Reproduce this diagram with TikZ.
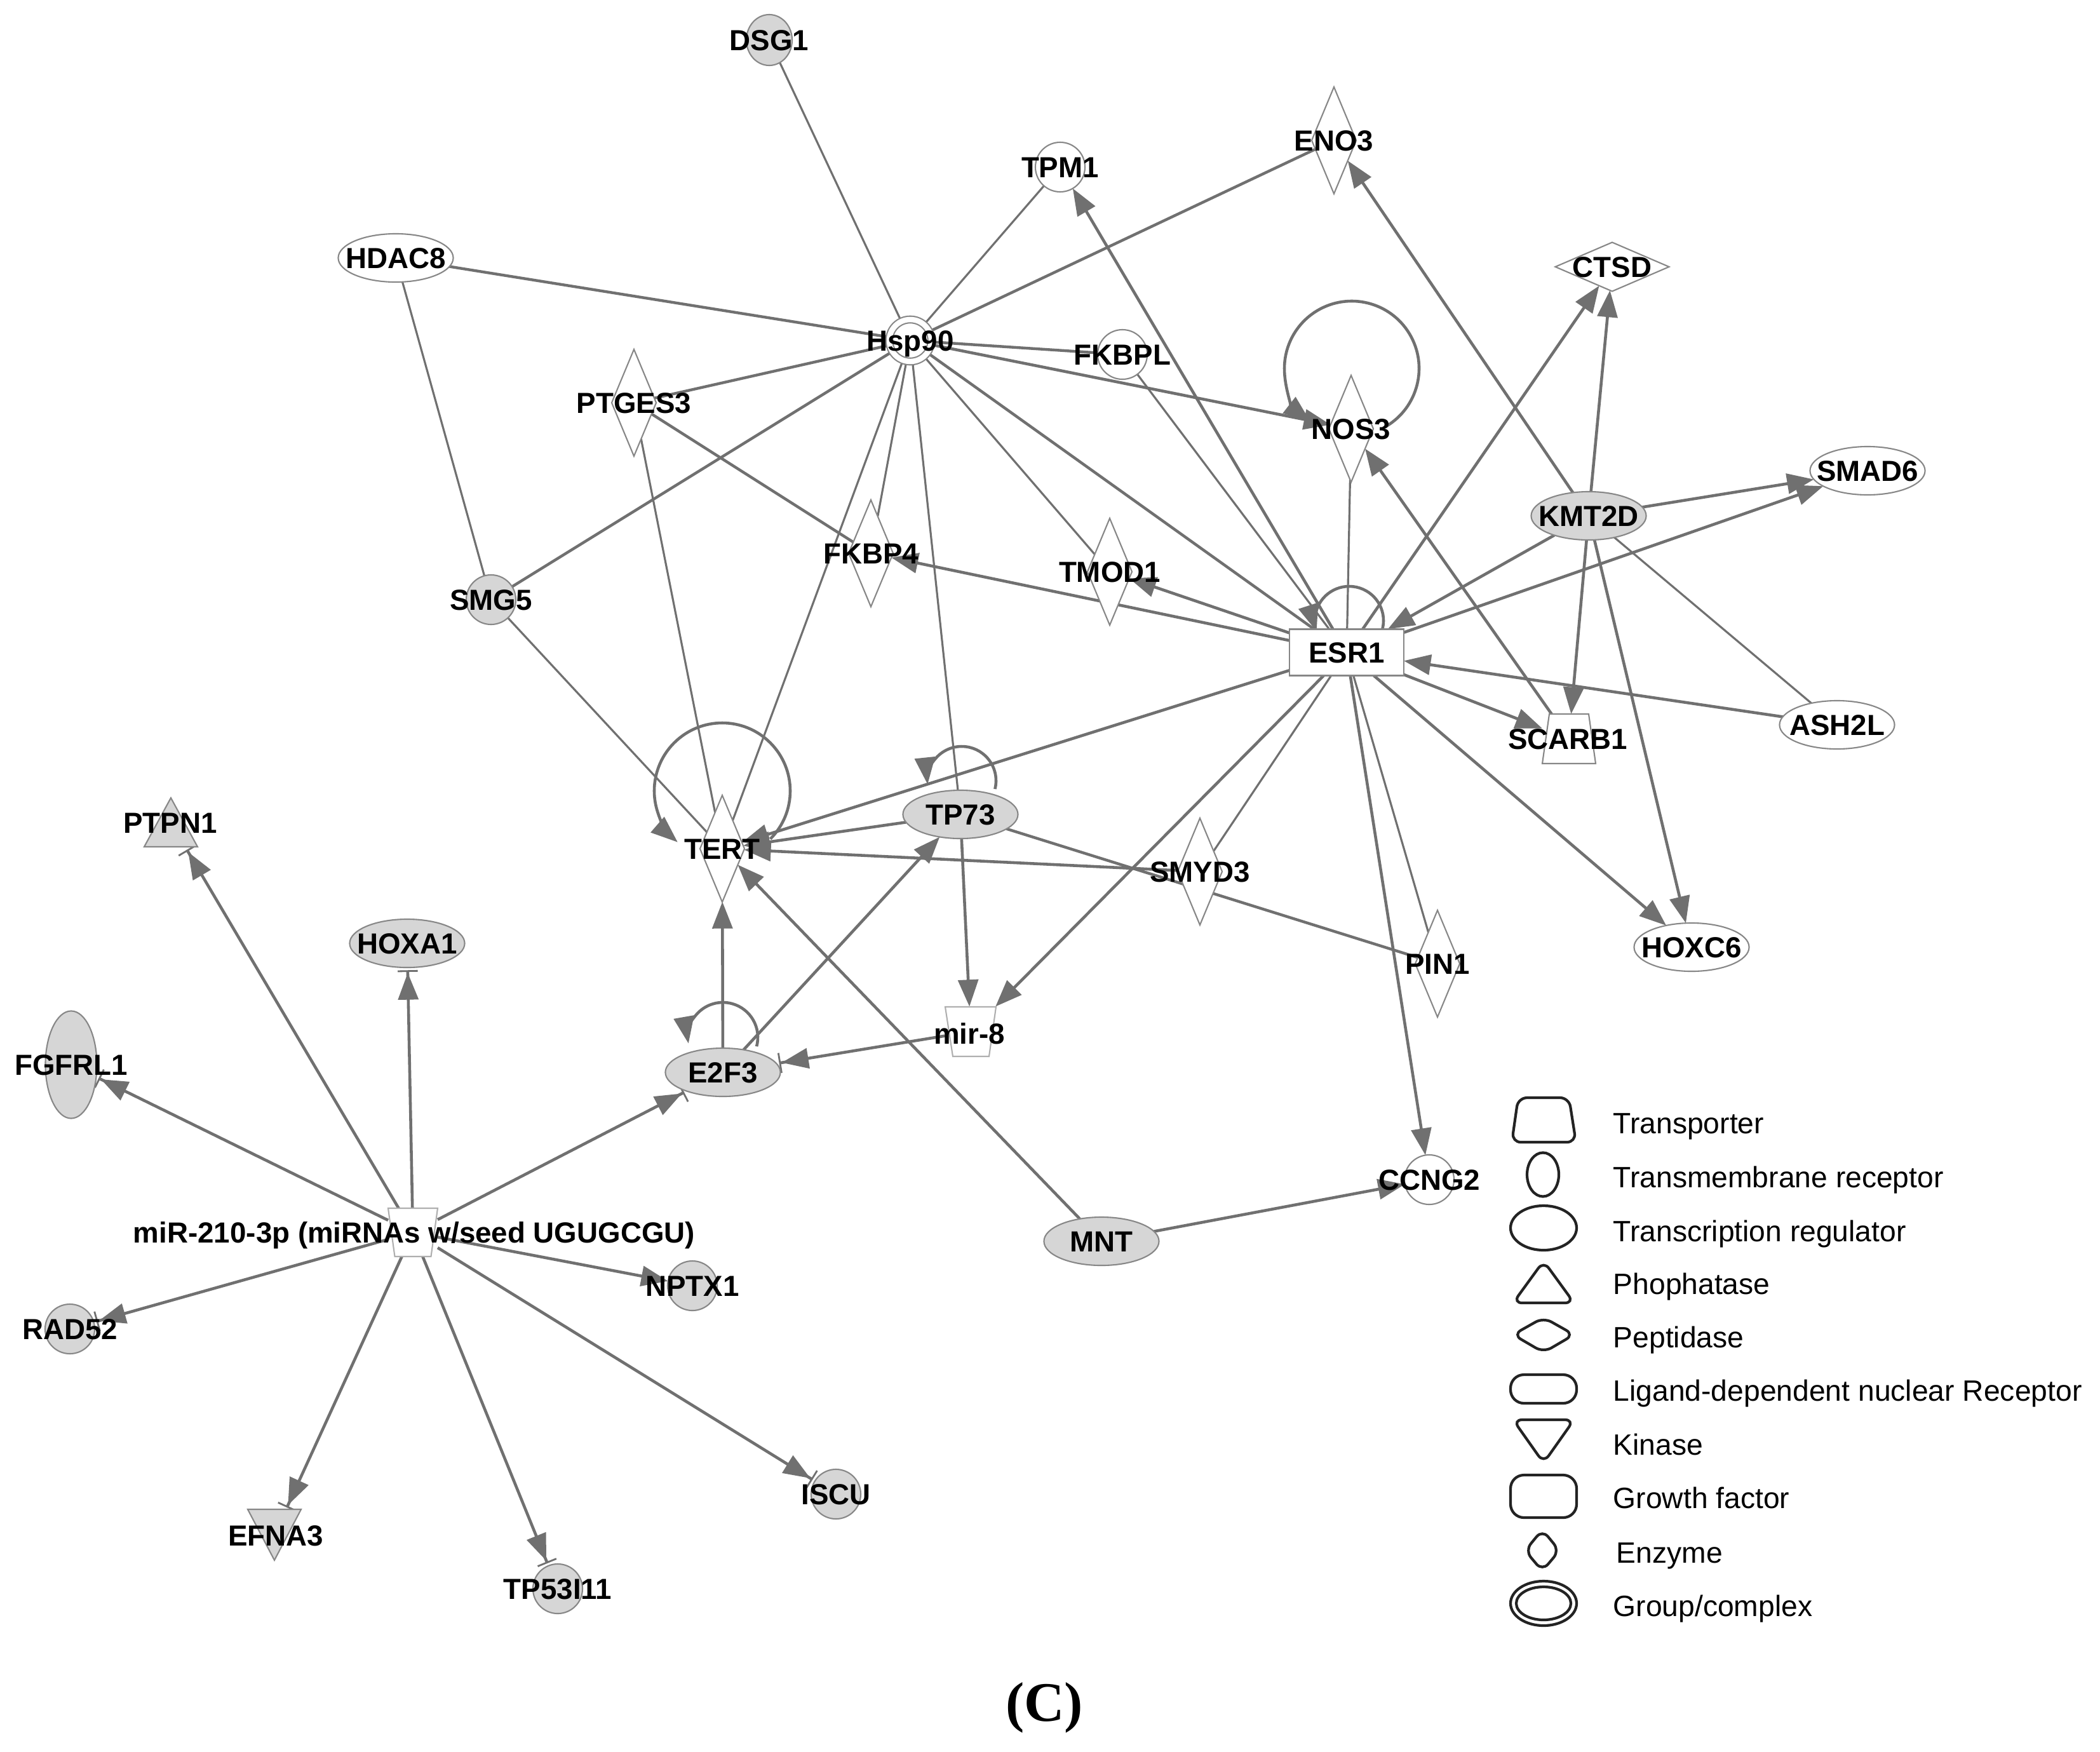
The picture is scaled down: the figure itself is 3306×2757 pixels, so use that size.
\documentclass[tikz,border=0pt]{standalone}
\usepackage{fontspec}
\setmainfont{Liberation Sans}
\newfontfamily\capfont{Liberation Serif}
\usetikzlibrary{shapes.geometric,arrows.meta,calc}
\pgfdeclarelayer{bg}
\pgfdeclarelayer{edges}
\pgfsetlayers{bg,edges,main}
\definecolor{edgegray}{RGB}{112,112,112}
\definecolor{nodefill}{RGB}{214,214,214}
\definecolor{nodeline}{RGB}{135,135,135}
\definecolor{trapline}{RGB}{175,175,175}
\definecolor{legendline}{RGB}{35,35,35}
\newcommand\lblfont{\fontsize{13}{15}\selectfont\bfseries}
\newcommand\legfont{\fontsize{13.15}{15}\selectfont}
\tikzset{
  lbl/.style={font=\lblfont, text=black, inner sep=0pt, text height=9.3pt, text depth=0pt},
  txt/.style={label={[lbl]center:#1}},
  wh/.style={draw=nodeline, line width=0.6pt, fill=white, inner sep=0pt, outer sep=0pt},
  gr/.style={draw=nodeline, line width=0.6pt, fill=nodefill, inner sep=0pt, outer sep=0pt},
  trap/.style={draw=trapline, line width=0.6pt, fill=white},
  treg/.style={ellipse, minimum width=1.81cm, minimum height=0.76cm},
  othr/.style={circle, minimum size=0.78cm},
  enz/.style={diamond, minimum width=0.70cm, minimum height=1.68cm},
  pept/.style={diamond, minimum width=1.79cm, minimum height=0.77cm},
  tmr/.style={ellipse, minimum width=0.81cm, minimum height=1.69cm},
  nrec/.style={rectangle, minimum width=1.80cm, minimum height=0.73cm},
  grp/.style={circle, minimum size=0.66cm, double=white, double distance=2.4pt},
  anchorbox/.style={rectangle, inner sep=0pt, outer sep=0pt, minimum width=0.84cm, minimum height=0.78cm},
  ln/.style={draw=edgegray, line width=0.9pt},
  lnb/.style={draw=edgegray, line width=1.25pt},
  arr/.style={draw=edgegray, line width=1.3pt, -{Triangle[length=12pt,width=9pt]}},
  inh/.style={draw=edgegray, line width=1.3pt, shorten >=1.2pt,
     -{Triangle[length=12pt,width=9pt,sep=0.4pt] Bar[width=9pt,line width=0.8pt]}},
  leg/.style={draw=legendline, line width=1.2pt},
  legtxt/.style={font=\legfont, text=black, inner sep=0pt, anchor=base west},
}
\begin{document}
\begin{tikzpicture}[x=0.01cm,y=-0.01cm]
\useasboundingbox (0,0) rectangle (3306,2757);
\begin{pgfonlayer}{bg}
\fill[white] (0,0) rectangle (3306,2757);
\end{pgfonlayer}

% ---------- nodes ----------
\node[gr,ellipse,minimum width=0.72cm,minimum height=0.80cm,txt=DSG1] (DSG1) at (1211,63) {};
\node[wh,othr,txt=TPM1] (TPM1) at (1669,263) {};
\node[wh,enz,txt=ENO3] (ENO3) at (2100,221) {};
\node[wh,treg,txt=HDAC8] (HDAC8) at (623,406) {};
\node[wh,pept,txt=CTSD] (CTSD) at (2538,420) {};
\node[wh,grp,txt=Hsp90] (Hsp90) at (1433,536) {};
\node[wh,othr,txt=FKBPL] (FKBPL) at (1767,558) {};
\node[wh,enz,txt=PTGES3] (PTGES3) at (998,634) {};
\node[wh,enz,txt=NOS3] (NOS3) at (2127,675) {};
\node[wh,treg,txt=SMAD6] (SMAD6) at (2940,741) {};
\node[gr,treg,txt=KMT2D] (KMT2D) at (2501,812) {};
\node[wh,enz,txt=FKBP4] (FKBP4) at (1371,871) {};
\node[wh,enz,txt=TMOD1] (TMOD1) at (1747,900) {};
\node[gr,othr,txt=SMG5] (SMG5) at (773,944) {};
\node[wh,nrec,txt=ESR1] (ESR1) at (2120,1027) {};
\node[wh,treg,txt=ASH2L] (ASH2L) at (2892,1141) {};
\node[wh,enz,txt=TERT] (TERT) at (1137,1336) {};
\node[gr,treg,txt=TP73] (TP73) at (1512,1282) {};
\node[wh,enz,txt=SMYD3] (SMYD3) at (1889,1372) {};
\node[gr,treg,txt=HOXA1] (HOXA1) at (641,1485) {};
\node[wh,treg,txt=HOXC6] (HOXC6) at (2663,1491) {};
\node[wh,enz,txt=PIN1] (PIN1) at (2263,1517) {};
\node[gr,tmr,txt=FGFRL1] (FGFRL1) at (112,1676) {};
\node[gr,treg,txt=E2F3] (E2F3) at (1138,1688) {};
\node[wh,othr,txt=CCNG2] (CCNG2) at (2250,1857) {};
\node[gr,treg,txt=MNT] (MNT) at (1734,1954) {};
\node[gr,othr,txt=NPTX1] (NPTX1) at (1090,2024) {};
\node[gr,othr,txt=RAD52] (RAD52) at (110,2092) {};
\node[gr,othr,txt=ISCU] (ISCU) at (1316,2352) {};
\node[gr,othr,txt=TP53I11] (TP53I11) at (878,2501) {};
% trapezoids (transporter / microRNA)
\node[anchorbox] (SCARB1) at (2470,1163) {};
\draw[trap,draw=nodeline] (2439,1124) -- (2501,1124) -- (2512,1202) -- (2428,1202) -- cycle;
\node[lbl] (SCARB1t) at (2468,1163) {SCARB1};
\node[anchorbox,minimum width=0.80cm,minimum height=0.79cm] (mir8) at (1528,1624) {};
\draw[trap] (1488,1585) -- (1568,1585) -- (1557,1663) -- (1500,1663) -- cycle;
\node[lbl] (mir8t) at (1526,1627) {mir-8};
\node[anchorbox,minimum width=0.78cm,minimum height=0.76cm] (miR) at (650,1940) {};
\draw[trap] (611,1902) -- (689,1902) -- (678.5,1978) -- (621.5,1978) -- cycle;
\node[lbl] (miRt) at (652,1940) {miR-210-3p (miRNAs w/seed UGUGCGU)};
% triangles (phosphatase / kinase)
\node[anchorbox] (PTPN1) at (269,1295) {};
\draw[gr] (227,1333) -- (311,1333) -- (269,1256) -- cycle;
\node[lbl] (PTPN1t) at (268,1295) {PTPN1};
\node[anchorbox] (EFNA3) at (432,2416) {};
\draw[gr] (390,2376) -- (474,2376) -- (432,2456) -- cycle;
\node[lbl] (EFNA3t) at (434,2417) {EFNA3};

% ---------- edges ----------
\begin{pgfonlayer}{edges}
% thin undirected
\draw[ln] (DSG1) -- (Hsp90);
\draw[ln] (HDAC8) -- (SMG5);
\draw[ln] (PTGES3) -- (TERT);
\draw[ln] (Hsp90) -- (TERT);
\draw[ln] (Hsp90) -- (FKBP4);
\draw[ln] (Hsp90) -- (TP73);
\draw[ln] (FKBPL) -- (ESR1);
\draw[ln] (NOS3) -- (ESR1);
\draw[ln] (ESR1) -- (PIN1);
\draw[ln] (KMT2D) -- (ASH2L);
\draw[ln] (Hsp90) -- (TMOD1);
\draw[ln] (Hsp90) -- (TPM1);
\draw[ln] (SMG5) -- (TERT);
\draw[ln] (ESR1) -- (SMYD3);
% thick undirected
\draw[lnb] (HDAC8) -- (Hsp90);
\draw[lnb] (Hsp90) -- (ENO3);
\draw[lnb] (Hsp90) -- (FKBPL);
\draw[lnb] (Hsp90) -- (PTGES3);
\draw[lnb] (Hsp90) -- (SMG5);
\draw[lnb] (Hsp90) -- (ESR1);
\draw[lnb] (PTGES3) -- (FKBP4);
\draw[lnb] (TP73) -- (PIN1);
% arrows
\draw[arr] (Hsp90) -- (NOS3);
\draw[arr] (ESR1) -- (TPM1);
\draw[arr] (ESR1) -- (FKBP4);
\draw[arr] (ESR1) -- (TMOD1);
\draw[arr] (ESR1) -- (TERT);
\draw[arr] (ESR1) -- (CTSD);
\draw[arr] (KMT2D) -- (ESR1);
\draw[arr] (ESR1) -- (SMAD6);
\draw[arr] (ASH2L) -- (ESR1);
\draw[arr] (ESR1) -- (SCARB1);
\draw[arr] (ESR1) -- (HOXC6);
\draw[arr] (ESR1) -- (CCNG2);
\draw[arr] (ESR1) -- (mir8);
\draw[arr] (SCARB1) -- (NOS3);
\draw[arr] (KMT2D) -- (CTSD);
\draw[arr] (KMT2D) -- (SMAD6);
\draw[arr] (KMT2D) -- (SCARB1);
\draw[arr] (KMT2D) -- (HOXC6);
\draw[arr] (KMT2D) -- (ENO3);
\draw[arr] (TP73) -- (TERT);
\draw[arr] (SMYD3) -- (TERT);
\draw[arr] (TP73) -- (mir8);
\draw[arr] (E2F3) -- (TERT);
\draw[arr] (E2F3) -- (TP73);
\draw[arr] (MNT) -- (TERT);
\draw[arr] (MNT) -- (CCNG2);
% self loops
\coordinate (NOS3c) at (2128,580);
\coordinate (TERTc) at (1137,1245);
\coordinate (E2F3c) at (1138,1633);
\coordinate (TP73c) at (1514,1229);
\coordinate (ESR1c) at (2124,977);
\draw[arr] ($(NOS3c)+(62:106)$) arc[start angle=62, end angle=-232, radius=106];
\draw[arr] ($(TERTc)+(45:107)$) arc[start angle=45, end angle=-229, radius=107];
\draw[arr] ($(E2F3c)+(15:55)$) arc[start angle=15, end angle=-190, radius=55];
\draw[arr] ($(TP73c)+(14:54)$) arc[start angle=14, end angle=-186, radius=54];
\draw[arr] ($(ESR1c)+(18:54)$) arc[start angle=18, end angle=-198, radius=54];
% miRNA targets
\draw[inh] (mir8) -- (E2F3);
\draw[inh] (miR) -- (PTPN1);
\draw[inh] (miR) -- (HOXA1);
\draw[inh] (miR) -- (FGFRL1);
\draw[inh] (miR) -- (E2F3);
\draw[arr] (miR) -- (NPTX1);
\draw[inh] (miR) -- (RAD52);
\draw[inh] (miR) -- (EFNA3);
\draw[inh] (miR) -- (TP53I11);
\draw[inh] (miR) -- (ISCU);
\end{pgfonlayer}

% ---------- legend ----------
\draw[leg, rounded corners=4pt] (2390,1728) -- (2470,1728) -- (2481,1798) -- (2380,1798) -- cycle;
\draw[leg] (2429,1849) ellipse [x radius=25, y radius=34.5];
\draw[leg] (2430,1933) ellipse [x radius=52, y radius=35];
\draw[leg, rounded corners=4pt] (2382,2051) -- (2478,2051) -- (2430,1985) -- cycle;
\draw[leg, rounded corners=4pt] (2382,2101) -- (2430,2074) -- (2478,2101) -- (2430,2129) -- cycle;
\draw[leg, rounded corners=6pt] (2378,2164) rectangle (2482,2209);
\draw[leg, rounded corners=4pt] (2382,2235) -- (2478,2235) -- (2430,2303) -- cycle;
\draw[leg, rounded corners=6pt] (2378,2322) rectangle (2482,2389);
\draw[leg, rounded corners=4pt] (2401,2441) -- (2428,2408) -- (2455,2441) -- (2428,2473) -- cycle;
\draw[leg] (2430,2524) ellipse [x radius=52, y radius=35];
\draw[leg] (2430,2524) ellipse [x radius=43, y radius=26];
\node[legtxt] (L1) at (2539,1784) {Transporter};
\node[legtxt] (L2) at (2539,1869) {Transmembrane receptor};
\node[legtxt] (L3) at (2539,1954) {Transcription regulator};
\node[legtxt] (L4) at (2539,2037) {Phophatase};
\node[legtxt] (L5) at (2539,2121) {Peptidase};
\node[legtxt] (L6) at (2539,2205) {Ligand-dependent nuclear Receptor};
\node[legtxt] (L7) at (2539,2290) {Kinase};
\node[legtxt] (L8) at (2539,2374) {Growth factor};
\node[legtxt] (L9) at (2544,2460) {Enzyme};
\node[legtxt] (L10) at (2539,2544) {Group/complex};

\node[font=\fontsize{25}{28}\capfont\bfseries, inner sep=0pt] (panel) at (1644,2688) {(C)};
\end{tikzpicture}
\end{document}
